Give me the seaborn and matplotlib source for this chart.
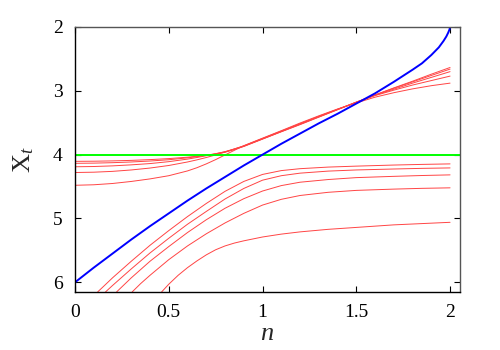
import matplotlib
matplotlib.use("Agg")
import matplotlib.pyplot as plt
import seaborn as sns
import pandas as pd

# ---------------- data ----------------
x_ticks = [0, 0.5, 1, 1.5, 2]
x_tick_labels = ["0", "0.5", "1", "1.5", "2"]
y_ticks = [2, 3, 4, 5, 6]
y_tick_labels = ["2", "3", "4", "5", "6"]

green_level = 4.0

blue_n = [0, 0.1, 0.2, 0.3, 0.4, 0.5, 0.6, 0.7, 0.8, 0.9, 1.0, 1.1, 1.2, 1.3, 1.4,
          1.5, 1.6, 1.7, 1.8, 1.85, 1.9, 1.94, 1.965, 1.98, 1.99, 1.997, 2.0]
blue_x = [6.0, 5.77, 5.55, 5.33, 5.12, 4.92, 4.72, 4.53, 4.35, 4.17, 4.0, 3.83, 3.67, 3.51, 3.36,
          3.2, 3.04, 2.86, 2.67, 2.57, 2.44, 2.32, 2.22, 2.15, 2.09, 2.04, 2.0]

upper_n = [0, 0.1, 0.2, 0.3, 0.4, 0.5, 0.6, 0.65, 0.7, 0.75, 0.8, 0.85, 0.9,
           1.0, 1.1, 1.2, 1.3, 1.4, 1.5, 1.6, 1.7, 1.8, 1.9, 2.0]
upper_a = [4.105, 4.103, 4.098, 4.09, 4.078, 4.062, 4.04, 4.025, 4.008, 3.99, 3.962, 3.92, 3.872,
           3.757, 3.642, 3.53, 3.413, 3.297, 3.18, 3.065, 2.955, 2.85, 2.74, 2.635]
upper_b = [4.136, 4.133, 4.126, 4.115, 4.10, 4.08, 4.05, 4.032, 4.01, 3.985, 3.956, 3.915, 3.869,
           3.754, 3.639, 3.525, 3.409, 3.294, 3.178, 3.065, 2.96, 2.86, 2.76, 2.66]
upper_c = [4.19, 4.186, 4.176, 4.16, 4.14, 4.11, 4.07, 4.045, 4.017, 3.987, 3.953, 3.911, 3.866,
           3.751, 3.636, 3.52, 3.405, 3.291, 3.177, 3.07, 2.975, 2.88, 2.79, 2.70]
upper_d = [4.28, 4.275, 4.262, 4.24, 4.21, 4.17, 4.115, 4.082, 4.045, 4.005, 3.96, 3.91, 3.862,
           3.747, 3.631, 3.515, 3.40, 3.29, 3.18, 3.075, 2.99, 2.91, 2.84, 2.77]
upper_e = [4.48, 4.472, 4.452, 4.42, 4.38, 4.33, 4.255, 4.205, 4.145, 4.078, 4.005, 3.932, 3.86,
           3.742, 3.625, 3.505, 3.392, 3.285, 3.19, 3.10, 3.03, 2.97, 2.92, 2.88]

low1_n = [0.121, 0.15, 0.2, 0.3, 0.4, 0.5, 0.6, 0.7, 0.8, 0.9, 1.0, 1.1, 1.2, 1.35, 1.5, 1.7, 1.85, 2.0]
low1_x = [6.15, 6.07, 5.93, 5.67, 5.42, 5.19, 4.97, 4.765, 4.575, 4.42, 4.31, 4.25, 4.22, 4.195, 4.18, 4.163, 4.153, 4.145]

low2_n = [0.163, 0.2, 0.3, 0.4, 0.5, 0.6, 0.7, 0.8, 0.9, 1.0, 1.1, 1.2, 1.35, 1.5, 1.7, 1.85, 2.0]
low2_x = [6.15, 6.05, 5.79, 5.54, 5.31, 5.09, 4.89, 4.695, 4.53, 4.40, 4.33, 4.29, 4.258, 4.24, 4.225, 4.215, 4.208]

low3_n = [0.222, 0.3, 0.4, 0.5, 0.6, 0.7, 0.8, 0.9, 1.0, 1.1, 1.2, 1.35, 1.5, 1.7, 1.85, 2.0]
low3_x = [6.15, 5.93, 5.67, 5.44, 5.22, 5.02, 4.84, 4.69, 4.57, 4.485, 4.432, 4.39, 4.36, 4.34, 4.327, 4.317]

low4_n = [0.305, 0.35, 0.4, 0.5, 0.6, 0.7, 0.8, 0.9, 1.0, 1.1, 1.2, 1.35, 1.5, 1.7, 1.85, 2.0]
low4_x = [6.15, 6.02, 5.89, 5.645, 5.43, 5.24, 5.07, 4.92, 4.79, 4.70, 4.64, 4.59, 4.56, 4.54, 4.528, 4.52]

low5_n = [0.462, 0.5, 0.55, 0.6, 0.65, 0.7, 0.75, 0.8, 0.85, 0.9, 1.0, 1.1, 1.2, 1.35, 1.5, 1.7, 1.85, 2.0]
low5_x = [6.15, 6.03, 5.89, 5.77, 5.665, 5.57, 5.49, 5.43, 5.385, 5.35, 5.29, 5.245, 5.21, 5.17, 5.14, 5.10, 5.08, 5.06]

# ---------------- style ----------------
sns.set_style("ticks")
plt.rcParams["font.family"] = ["Liberation Serif", "DejaVu Serif"]
plt.rcParams["mathtext.fontset"] = "custom"
plt.rcParams["mathtext.rm"] = "Liberation Serif"
plt.rcParams["mathtext.it"] = "Liberation Serif:italic"

fig = plt.figure(figsize=(5, 3.5), dpi=100)
ax = fig.add_axes([0.15, 0.166, 0.77, 0.757])

red = "#ff4444"
red_lw = 0.7

# red curves
reds = []
for i, ys in enumerate([upper_a, upper_b, upper_c, upper_d, upper_e]):
    reds.append(pd.DataFrame({"n": upper_n, "X": ys, "id": f"u{i}"}))
for i, (ns, ys) in enumerate([(low1_n, low1_x), (low2_n, low2_x), (low3_n, low3_x),
                              (low4_n, low4_x), (low5_n, low5_x)]):
    reds.append(pd.DataFrame({"n": ns, "X": ys, "id": f"l{i}"}))
red_df = pd.concat(reds, ignore_index=True)
sns.lineplot(data=red_df, x="n", y="X", units="id", estimator=None, color=red,
             lw=red_lw, ax=ax, legend=False)

# green horizontal
green_df = pd.DataFrame({"n": [0, 2.053], "X": [green_level, green_level]})
sns.lineplot(data=green_df, x="n", y="X", color="#00ff00", lw=1.4, ax=ax, legend=False)

# blue
blue_df = pd.DataFrame({"n": blue_n, "X": blue_x})
sns.lineplot(data=blue_df, x="n", y="X", color="#0000ff", lw=1.4, ax=ax, legend=False,
             sort=False)

ax.set_xlim(0, 2.053)
ax.set_ylim(6.15, 2.0)

ax.set_xticks(x_ticks)
ax.set_xticklabels(x_tick_labels)
ax.set_yticks(y_ticks)
ax.set_yticklabels(y_tick_labels)
ax.tick_params(direction="in", length=4, width=0.8, top=True, right=True,
               labelsize=14, colors="black", pad=9)

for s in ["left", "bottom"]:
    ax.spines[s].set_color("black")
    ax.spines[s].set_linewidth(1.0)
for s in ["top", "right"]:
    ax.spines[s].set_visible(True)
    ax.spines[s].set_color("#555555")
    ax.spines[s].set_linewidth(1.0)

ax.set_xlabel(r"$n$", fontsize=19, labelpad=1)
ax.set_ylabel(r"$\mathrm{X}_t$", fontsize=19, labelpad=12)

fig.savefig("out.png", dpi=100)
